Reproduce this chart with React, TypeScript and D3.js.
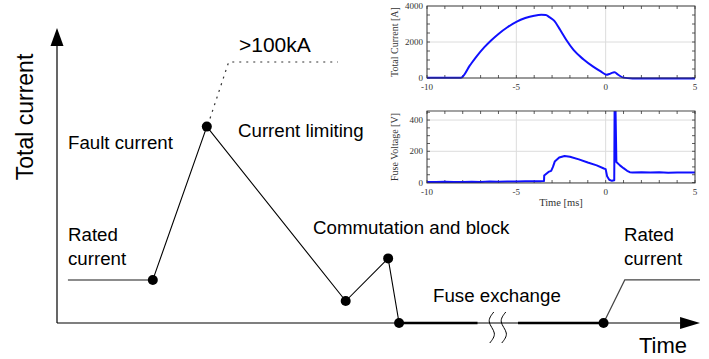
import React from 'react';
import * as d3 from 'd3';

// schematic (arbitrary units: time 0..10, current in multiples of rated current)
const ratedLeftT = [0.17, 1.49];
const ratedLeftI = [1, 1];
const faultT = [1.49, 2.33, 4.49, 5.15, 5.32];
const faultI = [1, 4.56, 0.51, 1.5, 0];
const prospectiveT = [2.38, 2.67, 4.37];
const prospectiveI = [4.75, 6.06, 6.06];
const exchangeT = [[5.32, 6.54], [7.17, 8.5]];
const ratedRightT = [8.5, 8.83, 10];
const ratedRightI = [0, 1, 1];
const dotT = [1.49, 2.33, 4.49, 5.15, 5.32, 8.5];
const dotI = [1, 4.56, 0.51, 1.5, 0, 0];
const breakT = 6.855;

// measured waveforms (inset)
const curTime = [-10, -8.1, -7.6, -7.2, -6.8, -6.4, -6.0, -5.5, -5.0, -4.5, -4.0, -3.6, -3.35, -3.15, -2.9, -2.55, -2.2, -1.8, -1.25, -0.7, -0.3, 0.05, 0.2, 0.4, 0.5, 0.7, 1.0, 1.5, 2, 3, 4, 5];
const curAmp = [20, 20, 700, 1230, 1700, 2100, 2450, 2820, 3120, 3330, 3460, 3510, 3500, 3380, 3200, 2680, 2110, 1560, 1040, 630, 380, 180, 220, 300, 320, 180, 20, -25, -30, -30, -30, -30];
const voltTime = [-10, -9.5, -9, -8.5, -8, -7.5, -7, -6.5, -6, -5.5, -5, -4.5, -4, -3.6, -3.45, -3.44, -3.2, -3.05, -2.95, -2.85, -2.6, -2.3, -2.0, -1.5, -1.0, -0.5, -0.1, 0.0, 0.08, 0.2, 0.35, 0.48, 0.5, 0.55, 0.6, 0.8, 1.0, 1.2, 1.35, 1.5, 2, 2.5, 3, 3.5, 4, 4.5, 5];
const voltV = [4, 3, 5, 3, 4, 5, 4, 6, 5, 7, 6, 8, 8, 9, 10, 45, 68, 75, 100, 134, 160, 170, 165, 148, 128, 110, 90, 86, 40, 18, 11, 14, 480, 480, 132, 110, 92, 75, 66, 65, 66, 64, 66, 63, 65, 64, 65];

const xTicks = [-10, -5, 0, 5];
const curTicks = [0, 2000, 4000];
const voltTicks = [0, 200, 400];

const sans = "'Liberation Sans', Arial, Helvetica, sans-serif";
const serif = "'Liberation Serif', 'Times New Roman', serif";

function Inset(props: {top: number; yDomain: number[]; yTicks: number[]; yMinor: number; t: number[]; v: number[]; ylabel: string; xlabel?: string; curve: any; id: string}) {
  const {top, yDomain, yTicks, yMinor, t, v, ylabel, xlabel, curve, id} = props;
  const left = 427, right = 695, h = 72;
  const x = d3.scaleLinear().domain([-10, 5]).range([left, right]);
  const y = d3.scaleLinear().domain(yDomain).range([top + h, top]);
  const line = d3.line<number>().x((d, i) => x(t[i])).y((d) => y(d)).curve(curve);
  const minorX = d3.range(-10, 5.01, 1);
  const minorY = d3.range(0, yDomain[1], yMinor);
  const tk = 3;
  return (
    <g>
      <defs>
        <clipPath id={id}><rect x={left} y={top} width={right - left} height={h + 4} /></clipPath>
      </defs>
      {xTicks.map((d) => <line key={'gx' + d} x1={x(d)} x2={x(d)} y1={top} y2={top + h} stroke="#dcdcdc" strokeWidth={1} />)}
      {yTicks.map((d) => <line key={'gy' + d} x1={left} x2={right} y1={y(d)} y2={y(d)} stroke="#dcdcdc" strokeWidth={1} />)}
      {minorX.map((d) => (
        <g key={'mx' + d}>
          <line x1={x(d)} x2={x(d)} y1={top} y2={top + tk} stroke="#333" strokeWidth={0.8} />
          <line x1={x(d)} x2={x(d)} y1={top + h} y2={top + h - tk} stroke="#333" strokeWidth={0.8} />
        </g>
      ))}
      {minorY.map((d) => (
        <g key={'my' + d}>
          <line x1={left} x2={left + tk} y1={y(d)} y2={y(d)} stroke="#333" strokeWidth={0.8} />
          <line x1={right} x2={right - tk} y1={y(d)} y2={y(d)} stroke="#333" strokeWidth={0.8} />
        </g>
      ))}
      <path d={line(v) || ''} fill="none" stroke="#1010ff" strokeWidth={2} clipPath={`url(#${id})`} strokeLinejoin="round" />
      <rect x={left} y={top} width={right - left} height={h} fill="none" stroke="#333" strokeWidth={0.9} />
      {xTicks.map((d) => (
        <text key={'xl' + d} x={x(d)} y={top + h + 12} textAnchor="middle" fontFamily={serif} fontSize={9} fill="#333">{d}</text>
      ))}
      {yTicks.map((d) => (
        <text key={'yl' + d} x={left - 4} y={y(d) + 3} textAnchor="end" fontFamily={serif} fontSize={9} fill="#333">{d}</text>
      ))}
      <text transform={`translate(398,${top + h / 2}) rotate(-90)`} textAnchor="middle" fontFamily={serif} fontSize={10} fill="#333">{ylabel}</text>
      {xlabel && <text x={(left + right) / 2} y={top + h + 23} textAnchor="middle" fontFamily={serif} fontSize={10.5} fill="#333">{xlabel}</text>}
    </g>
  );
}

export default function App() {
  const W = 709, H = 359;
  const sx = d3.scaleLinear().domain([0, 10]).range([57, 700]);
  const sy = d3.scaleLinear().domain([0, 6.85]).range([323, 28]);
  const pl = (ts: number[], is: number[]) => d3.line<number>().x((d, i) => sx(ts[i])).y((d) => sy(d))(is) || '';
  const axisY = sy(0);
  const bx = sx(breakT);
  const squiggle = (cx: number) => d3.line<number[]>().curve(d3.curveNatural)([
    [cx + 2, axisY - 11], [cx - 2.5, axisY - 1], [cx + 2.5, axisY + 10], [cx - 2, axisY + 20]
  ]) || '';

  return (
    <svg width={W} height={H} style={{position: 'absolute', left: 0, top: 0, background: '#fff'}}>
      {/* axes */}
      <line x1={sx(0)} x2={sx(0)} y1={axisY} y2={sy(6.45)} stroke="#000" strokeWidth={1.2} />
      <path d={`M${sx(0)},${sy(6.85)} L${sx(0) - 6.5},${sy(6.43)} L${sx(0) + 6.5},${sy(6.43)} Z`} fill="#000" />
      <line x1={sx(0)} x2={sx(9.7)} y1={axisY} y2={axisY} stroke="#000" strokeWidth={1.2} />
      <path d={`M${sx(10)},${axisY} L${sx(9.69)},${axisY - 6} L${sx(9.69)},${axisY + 6} Z`} fill="#000" />

      {/* fuse exchange (thick) and break */}
      {exchangeT.map((seg, i) => (
        <line key={'ex' + i} x1={sx(seg[0])} x2={sx(seg[1])} y1={axisY} y2={axisY} stroke="#000" strokeWidth={2.6} />
      ))}
      <path d={squiggle(bx - 6)} fill="none" stroke="#000" strokeWidth={1} />
      <path d={squiggle(bx + 6)} fill="none" stroke="#000" strokeWidth={1} />

      {/* current trajectory */}
      <path d={pl(ratedLeftT, ratedLeftI)} fill="none" stroke="#666" strokeWidth={1.6} />
      <path d={pl(faultT, faultI)} fill="none" stroke="#000" strokeWidth={1.1} />
      <path d={pl(prospectiveT, prospectiveI)} fill="none" stroke="#333" strokeWidth={1.2} strokeDasharray="2,5" />
      <path d={pl(ratedRightT, ratedRightI)} fill="none" stroke="#444" strokeWidth={1.2} />
      {dotT.map((d, i) => <circle key={'dot' + i} cx={sx(d)} cy={sy(dotI[i])} r={5} fill="#000" />)}

      {/* labels */}
      <text transform={`translate(33,117) rotate(-90)`} textAnchor="middle" fontFamily={sans} fontSize={23}>Total current</text>
      <text x={639} y={353} fontFamily={sans} fontSize={22}>Time</text>
      <text x={239} y={52} fontFamily={sans} fontSize={21}>&gt;100kA</text>
      <text x={68} y={149} fontFamily={sans} fontSize={18.7}>Fault current</text>
      <text x={68} y={241} fontFamily={sans} fontSize={18.7}>Rated</text>
      <text x={68} y={265} fontFamily={sans} fontSize={18.7}>current</text>
      <text x={238} y={137} fontFamily={sans} fontSize={18.7}>Current limiting</text>
      <text x={313} y={234} fontFamily={sans} fontSize={18.7}>Commutation and block</text>
      <text x={433} y={302} fontFamily={sans} fontSize={18.7}>Fuse exchange</text>
      <text x={624} y={241} fontFamily={sans} fontSize={18.7}>Rated</text>
      <text x={624} y={265} fontFamily={sans} fontSize={18.7}>current</text>

      {/* measured waveforms */}
      <Inset id="c1" top={6} yDomain={[0, 4000]} yTicks={curTicks} yMinor={500} t={curTime} v={curAmp} ylabel="Total Current [A]" curve={d3.curveMonotoneX} />
      <Inset id="c2" top={111} yDomain={[-3, 458]} yTicks={voltTicks} yMinor={50} t={voltTime} v={voltV} ylabel="Fuse Voltage [V]" xlabel="Time [ms]" curve={d3.curveLinear} />
    </svg>
  );
}
